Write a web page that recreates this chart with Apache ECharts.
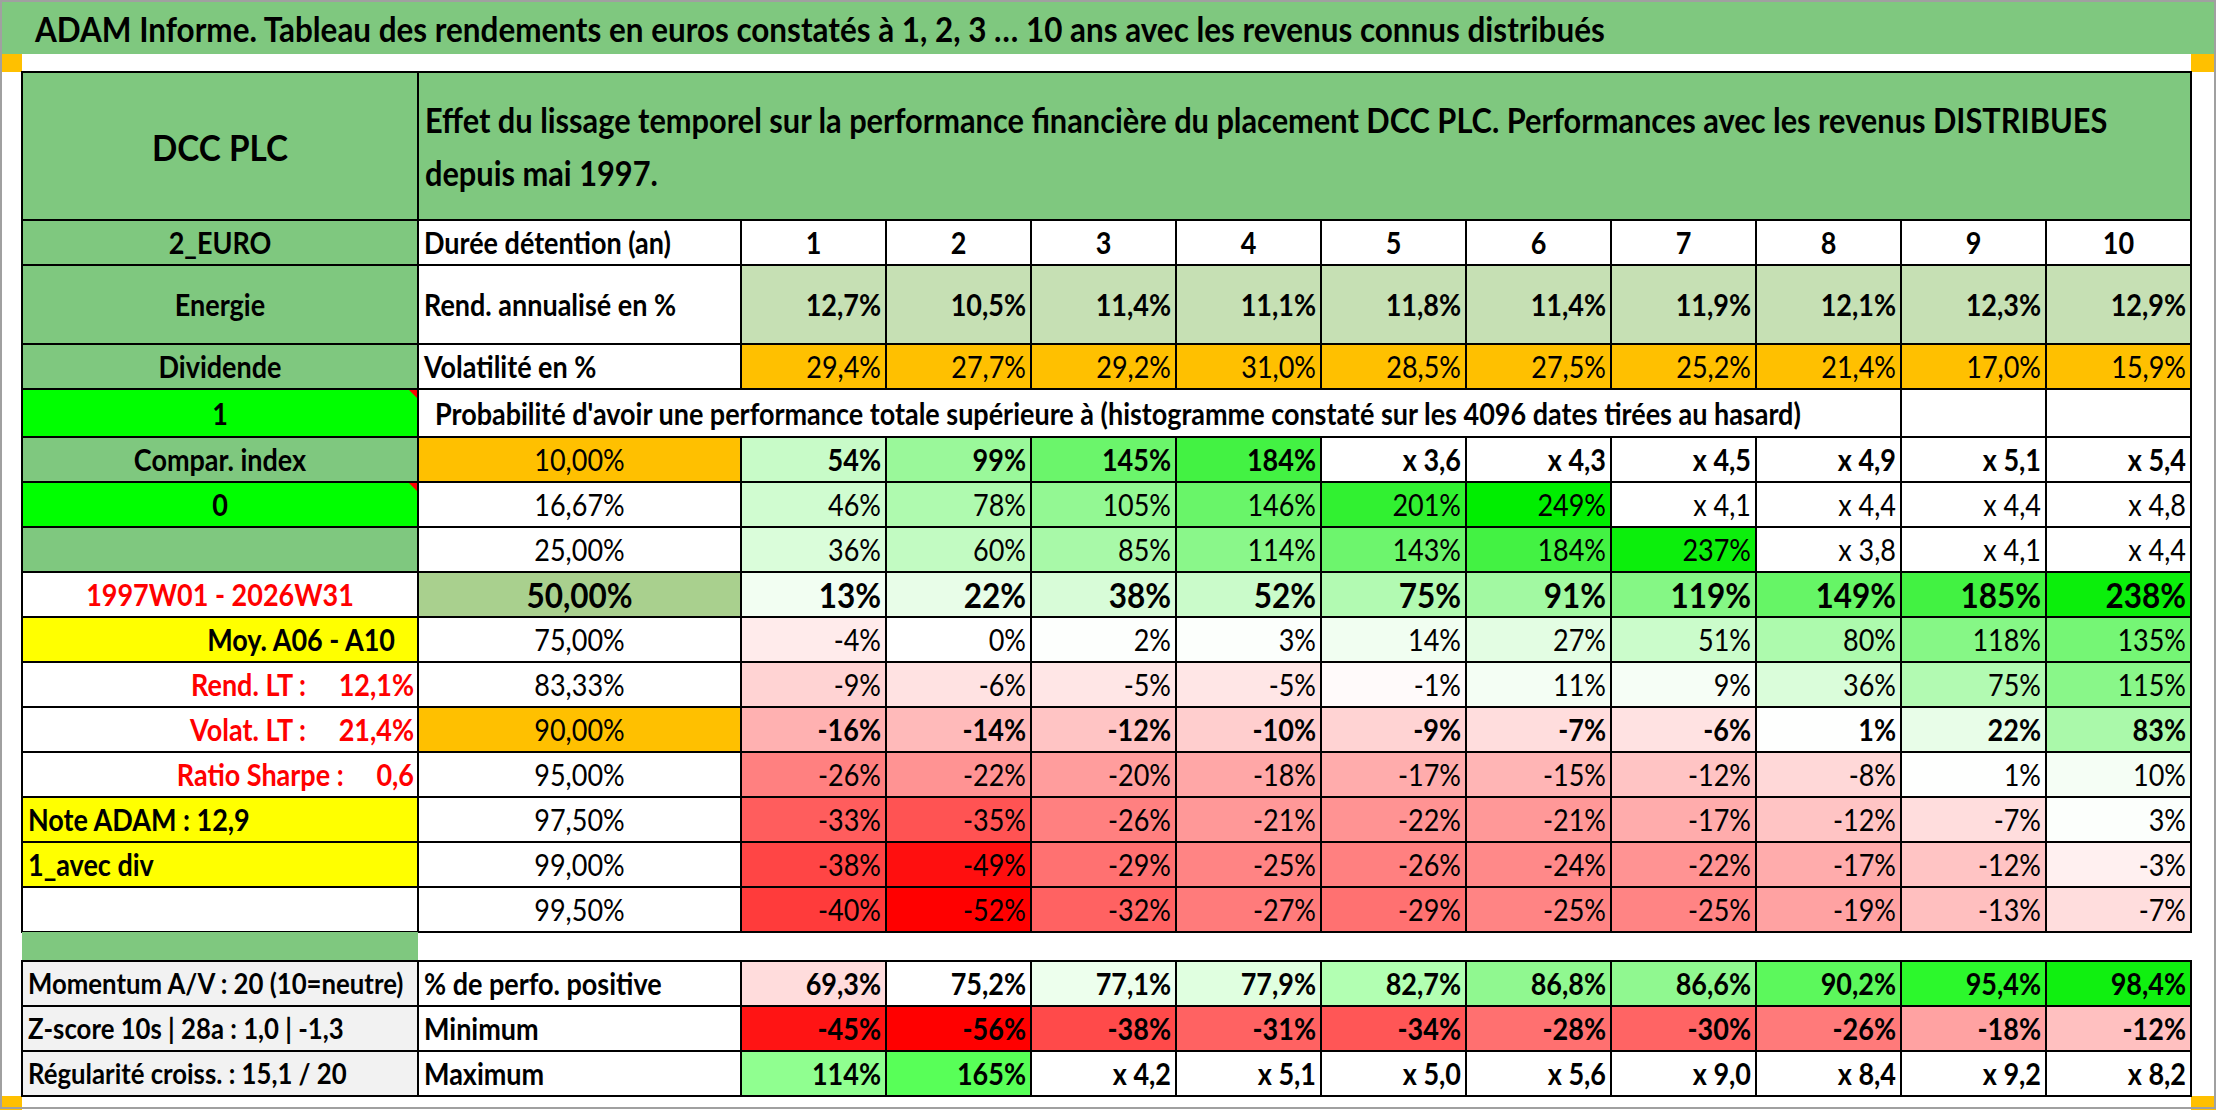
<!DOCTYPE html>
<html>
<head>
<meta charset="utf-8">
<script src="https://cdn.jsdelivr.net/npm/echarts@6/dist/echarts.min.js"></script>
<style>html,body{margin:0;padding:0;background:#fff}#c{width:2216px;height:1110px}</style>
</head>
<body>
<div id="c"></div>
<script>
// ================= DATA =================
const titleText = 'ADAM Informe. Tableau des rendements en euros constatés à 1, 2, 3 … 10 ans avec les revenus connus distribués';
const headerLines = ['Effet du lissage temporel sur la performance financière du placement DCC PLC. Performances avec les revenus DISTRIBUES', 'depuis mai 1997.'];
const probText = "Probabilité d'avoir une performance totale supérieure à (histogramme constaté sur les 4096 dates tirées au hasard)";
const holdingYears = [1, 2, 3, 4, 5, 6, 7, 8, 9, 10];
const annualReturn = [12.7, 10.5, 11.4, 11.1, 11.8, 11.4, 11.9, 12.1, 12.3, 12.9];
const volatility = [29.4, 27.7, 29.2, 31.0, 28.5, 27.5, 25.2, 21.4, 17.0, 15.9];
const percentiles = [10.00, 16.67, 25.00, 50.00, 75.00, 83.33, 90.00, 95.00, 97.50, 99.00, 99.50];
// total performance in % ; cells displayed as "x N" hold (N-1)*100
const perf10   = [54, 99, 145, 184, 260, 330, 350, 390, 410, 440];
const perf1667 = [46, 78, 105, 146, 201, 249, 310, 340, 340, 380];
const perf25   = [36, 60, 85, 114, 143, 184, 237, 280, 310, 340];
const perf50   = [13, 22, 38, 52, 75, 91, 119, 149, 185, 238];
const perf75   = [-4, 0, 2, 3, 14, 27, 51, 80, 118, 135];
const perf8333 = [-9, -6, -5, -5, -1, 11, 9, 36, 75, 115];
const perf90   = [-16, -14, -12, -10, -9, -7, -6, 1, 22, 83];
const perf95   = [-26, -22, -20, -18, -17, -15, -12, -8, 1, 10];
const perf975  = [-33, -35, -26, -21, -22, -21, -17, -12, -7, 3];
const perf99   = [-38, -49, -29, -25, -26, -24, -22, -17, -12, -3];
const perf995  = [-40, -52, -32, -27, -29, -25, -25, -19, -13, -7];
const positiveShare = [69.3, 75.2, 77.1, 77.9, 82.7, 86.8, 86.6, 90.2, 95.4, 98.4];
const minimumPerf = [-45, -56, -38, -31, -34, -28, -30, -26, -18, -12];
const maximumPerf = [114, 165, 320, 410, 400, 460, 800, 740, 820, 720];
const sideLabels = ['Compar. index', '0', '', '1997W01 - 2026W31', 'Moy. A06 - A10',
  'Rend. LT :\u00a0\u00a0\u00a0\u00a0\u00a012,1%', 'Volat. LT :\u00a0\u00a0\u00a0\u00a0\u00a021,4%', 'Ratio Sharpe :\u00a0\u00a0\u00a0\u00a0\u00a00,6',
  'Note ADAM : 12,9', '1_avec div', ''];
const bottomLabels = ['Momentum A/V : 20 (10=neutre)', 'Z-score 10s | 28a : 1,0 | -1,3', 'Régularité croiss. : 15,1 / 20'];
const bottomRowNames = ['% de perfo. positive', 'Minimum', 'Maximum'];

// ================= STYLE / LAYOUT =================
const G = '#7FC87F';
const SX = 0.9;            // horizontal text compression (narrow spreadsheet font)
const FONT = 'Lato';
const BASE = 30;
const colW = [396, 323, 145, 145, 145, 145, 145, 145, 145, 145, 145, 145];
const rowH = [148, 45, 79, 45, 48, 45, 45, 45, 45, 45, 45, 45, 45, 45, 45, 45, 29, 45, 45, 45];
const xEdge = [0]; colW.forEach(w => xEdge.push(xEdge[xEdge.length - 1] + w));
const yEdge = [0]; rowH.forEach(h => yEdge.push(yEdge[yEdge.length - 1] + h));

const sideStyle = [
  {bg: G, align: 'center'},
  {bg: '#00FF00', align: 'center', tri: true},
  {bg: G},
  {bg: '#FFFFFF', align: 'center', color: '#FF0000'},
  {bg: '#FFFF00', align: 'right', pad: 23},
  {bg: '#FFFFFF', align: 'right', color: '#FF0000', pad: 4},
  {bg: '#FFFFFF', align: 'right', color: '#FF0000', pad: 4},
  {bg: '#FFFFFF', align: 'right', color: '#FF0000', pad: 4},
  {bg: '#FFFF00', align: 'left'},
  {bg: '#FFFF00', align: 'left'},
  {bg: '#FFFFFF'}
];
const pctBg = ['#FFC000', '#FFFFFF', '#FFFFFF', '#A9D08E', '#FFFFFF', '#FFFFFF', '#FFC000', '#FFFFFF', '#FFFFFF', '#FFFFFF', '#FFFFFF'];
const rowWeight = ['bold', 'normal', 'normal', 'big', 'normal', 'normal', 'bold', 'normal', 'normal', 'normal', 'normal'];
const momentumColors = ['#FFDCDC', '#FFFFFF', '#EDFFED', '#E0FFE0', '#B2FFB2', '#90F890', '#90F890', '#5CF85C', '#2CF82C', '#10F010'];
const minimumColors = ['#FF1414', '#FF0000', '#FF4A4A', '#FF6262', '#FF5656', '#FF7070', '#FF6464', '#FF7A7A', '#FFA2A2', '#FFC0C0'];
const maximumColors = ['#90FF90', '#58FF58', '#FFFFFF', '#FFFFFF', '#FFFFFF', '#FFFFFF', '#FFFFFF', '#FFFFFF', '#FFFFFF', '#FFFFFF'];

function mix(a, b, t) {
  const r = Math.round(a[0] + (b[0] - a[0]) * t), g = Math.round(a[1] + (b[1] - a[1]) * t), bl = Math.round(a[2] + (b[2] - a[2]) * t);
  return 'rgb(' + r + ',' + g + ',' + bl + ')';
}
// spreadsheet-like colour scale of the percentile block
function perfColor(v) {
  if (v >= 250) return '#FFFFFF';
  if (v < 0) return mix([255, 255, 255], [255, 0, 0], Math.min(1, v / -52));
  return mix([255, 255, 255], [0, 238, 0], Math.min(1, v / 249));
}
const dec = (v, n) => v.toFixed(n).replace('.', ',');
const fmtPerf = v => v >= 250 ? 'x ' + dec(1 + v / 100, 1) : Math.round(v) + '%';

// ================= CELLS =================
const cells = [];
function add(c0, c1, r0, r1, o) { cells.push(Object.assign({c0, c1, r0, r1, bg: '#FFFFFF', border: true}, o)); }

add(0, 1, 0, 1, {bg: G, text: 'DCC PLC', size: 37, bold: true, align: 'center'});
add(1, 12, 0, 1, {bg: G, text: headerLines.join('\n'), size: 34, sx: 0.905, bold: true, align: 'left', pad: 7, lh: 53});

add(0, 1, 1, 2, {bg: G, text: '2_EURO', bold: true, align: 'center'});
add(1, 2, 1, 2, {text: 'Durée détention (an)', bold: true, align: 'left'});
holdingYears.forEach((y, j) => add(2 + j, 3 + j, 1, 2, {text: String(y), bold: true, align: 'center'}));

add(0, 1, 2, 3, {bg: G, text: 'Energie', bold: true, align: 'center'});
add(1, 2, 2, 3, {text: 'Rend. annualisé en %', bold: true, align: 'left'});
annualReturn.forEach((v, j) => add(2 + j, 3 + j, 2, 3, {bg: '#C6E0B4', text: dec(v, 1) + '%', bold: true, align: 'right'}));

add(0, 1, 3, 4, {bg: G, text: 'Dividende', bold: true, align: 'center'});
add(1, 2, 3, 4, {text: 'Volatilité en %', bold: true, align: 'left'});
volatility.forEach((v, j) => add(2 + j, 3 + j, 3, 4, {bg: '#FFC000', text: dec(v, 1) + '%', align: 'right'}));

add(0, 1, 4, 5, {bg: '#00FF00', text: '1', bold: true, align: 'center', tri: true});
add(1, 10, 4, 5, {text: probText, bold: true, align: 'left', pad: 17});
add(10, 11, 4, 5, {});
add(11, 12, 4, 5, {});

const perfRows = [perf10, perf1667, perf25, perf50, perf75, perf8333, perf90, perf95, perf975, perf99, perf995];
perfRows.forEach((row, i) => {
  const r = 5 + i;
  const s = sideStyle[i];
  add(0, 1, r, r + 1, {bg: s.bg, text: sideLabels[i], bold: true, align: s.align || 'center', color: s.color, pad: s.pad, tri: s.tri});
  const big = rowWeight[i] === 'big';
  add(1, 2, r, r + 1, {bg: pctBg[i], text: dec(percentiles[i], 2) + '%', bold: big, size: big ? 35 : BASE, align: 'center'});
  row.forEach((v, j) => add(2 + j, 3 + j, r, r + 1, {
    bg: perfColor(v), text: fmtPerf(v), bold: rowWeight[i] !== 'normal', size: big ? 35 : BASE, align: 'right'
  }));
});

add(0, 1, 16, 17, {bg: G, border: false});

const bottomRows = [positiveShare, minimumPerf, maximumPerf];
const bottomColors = [momentumColors, minimumColors, maximumColors];
bottomRows.forEach((row, i) => {
  const r = 17 + i;
  add(0, 1, r, r + 1, {bg: '#F2F2F2', text: bottomLabels[i], bold: true, align: 'left', size: 28, sx: 0.92});
  add(1, 2, r, r + 1, {text: bottomRowNames[i], bold: true, align: 'left'});
  row.forEach((v, j) => add(2 + j, 3 + j, r, r + 1, {
    bg: bottomColors[i][j], text: i === 0 ? dec(v, 1) + '%' : fmtPerf(v), bold: true, align: 'right'
  }));
});

// ================= RENDER =================
function renderItem(params, api) {
  const c = cells[params.dataIndex];
  const p0 = api.coord([xEdge[api.value(0)], yEdge[api.value(1)]]);
  const p1 = api.coord([xEdge[api.value(2)], yEdge[api.value(3)]]);
  const x = p0[0], y = p0[1], w = p1[0] - p0[0], h = p1[1] - p0[1];
  const children = [{
    type: 'rect', shape: {x, y, width: w, height: h},
    style: {fill: c.bg, stroke: c.border ? '#000' : null, lineWidth: c.border ? 2 : 0}
  }];
  if (c.tri) {
    children.push({type: 'polygon', shape: {points: [[x + w - 9, y + 1], [x + w - 1, y + 1], [x + w - 1, y + 9]]}, style: {fill: '#FF0000'}});
  }
  if (c.text) {
    const al = c.align || 'center';
    const pad = c.pad != null ? c.pad : (al === 'left' ? 6 : 5);
    const tx = al === 'left' ? x + pad : al === 'right' ? x + w - pad : x + w / 2;
    const size = c.size || BASE;
    children.push({
      type: 'text', x: tx, y: y + h / 2, scaleX: c.sx || SX,
      style: {
        text: c.text, fill: c.color || '#000',
        font: (c.bold ? 'bold ' : 'normal ') + size + 'px ' + FONT,
        lineHeight: c.lh || undefined,
        textAlign: al, textVerticalAlign: 'middle', align: al, verticalAlign: 'middle'
      }
    });
  }
  return {type: 'group', children};
}

const chart = echarts.init(document.getElementById('c'), null, {renderer: 'svg', width: 2216, height: 1110});
chart.setOption({
  animation: false,
  backgroundColor: '#FFFFFF',
  grid: {left: 22, top: 72, width: xEdge[xEdge.length - 1], height: yEdge[yEdge.length - 1]},
  xAxis: {type: 'value', min: 0, max: xEdge[xEdge.length - 1], show: false},
  yAxis: {type: 'value', min: 0, max: yEdge[yEdge.length - 1], inverse: true, show: false},
  graphic: [
    {type: 'rect', left: 0, top: 0, shape: {width: 2216, height: 54}, style: {fill: G}, z: 0},
    {type: 'text', x: 35, y: 29, scaleX: 0.925, z: 5,
      style: {text: titleText, font: 'bold 34px ' + FONT, fill: '#000', textAlign: 'left', textVerticalAlign: 'middle', align: 'left', verticalAlign: 'middle'}},
    {type: 'rect', left: 0, top: 54, shape: {width: 22, height: 18}, style: {fill: '#FFC000'}},
    {type: 'rect', right: 0, top: 54, shape: {width: 25, height: 18}, style: {fill: '#FFC000'}},
    {type: 'rect', left: 0, bottom: 0, shape: {width: 22, height: 14}, style: {fill: '#FFC000'}},
    {type: 'rect', right: 0, bottom: 0, shape: {width: 25, height: 14}, style: {fill: '#FFC000'}},
    {type: 'rect', x: 1, y: 1, shape: {width: 2214, height: 1107}, style: {fill: null, stroke: '#A0A0A0', lineWidth: 2}, z: 100}
  ],
  series: [{
    type: 'custom',
    coordinateSystem: 'cartesian2d',
    clip: false,
    silent: true,
    renderItem,
    data: cells.map(c => [c.c0, c.r0, c.c1, c.r1])
  }]
});
</script>
</body>
</html>
